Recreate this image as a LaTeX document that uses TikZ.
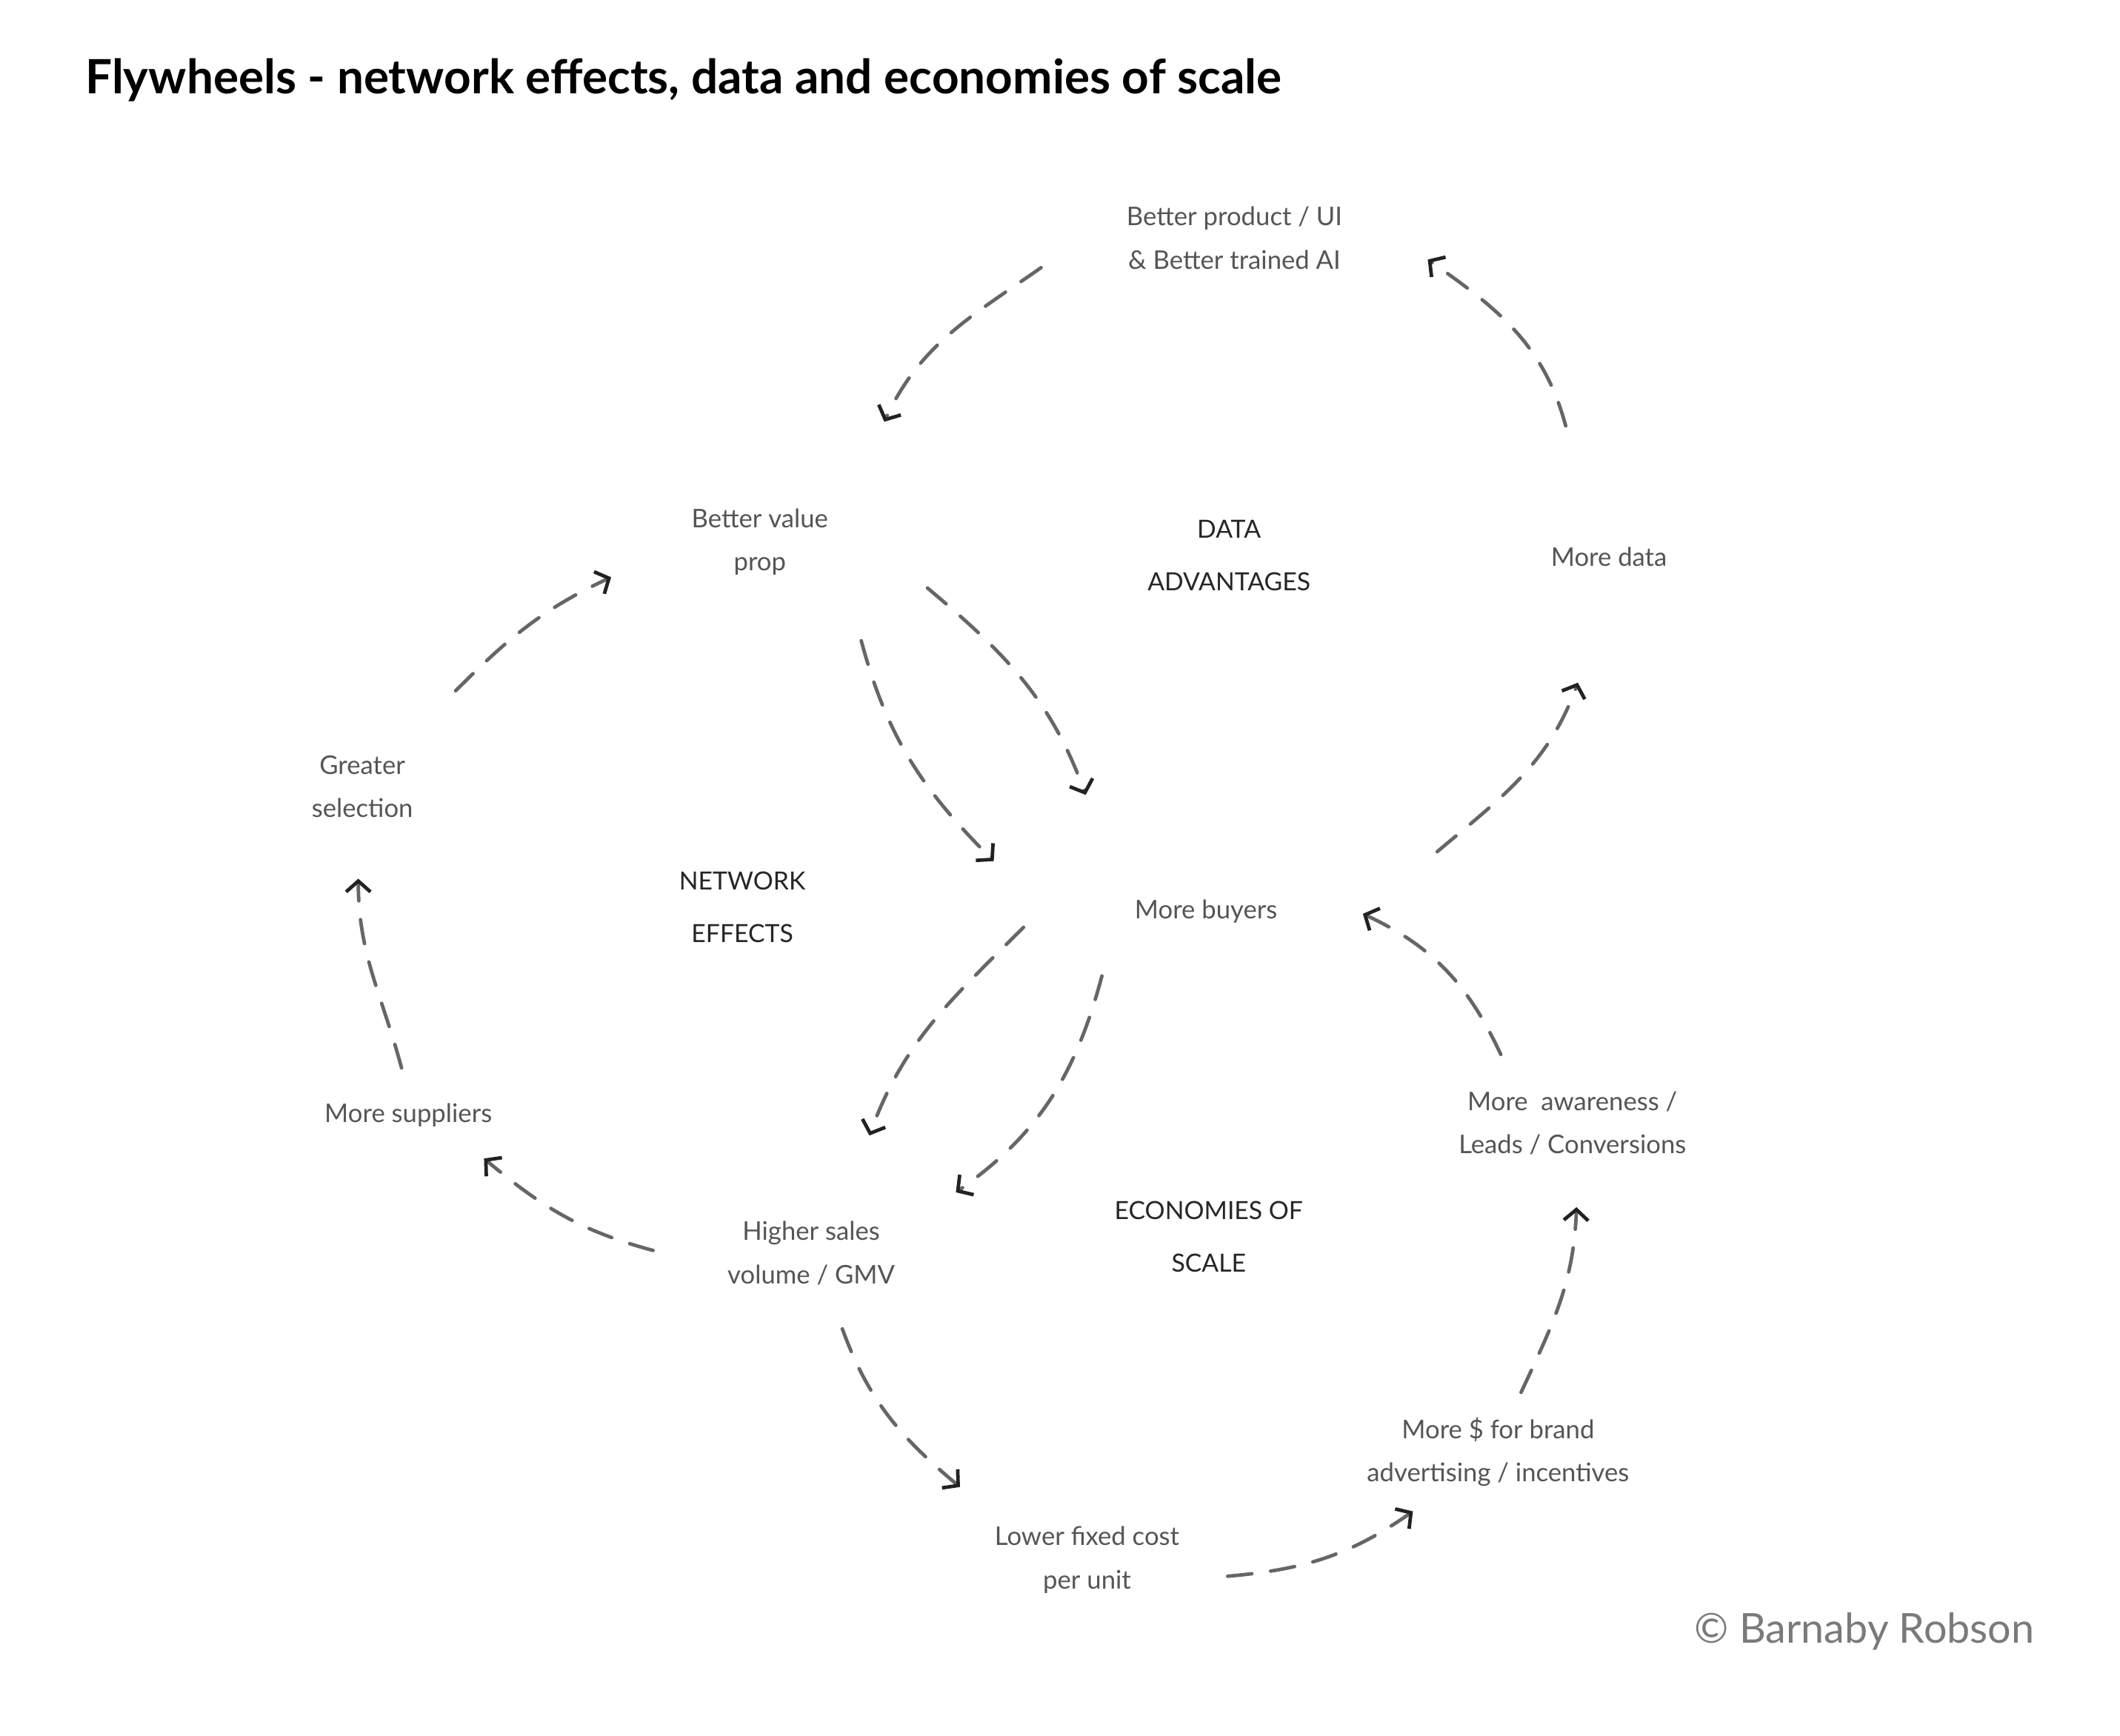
\documentclass[tikz,border=0pt]{standalone}
\usepackage{fontspec}
\setmainfont{Lato}
\usetikzlibrary{arrows.meta}
\definecolor{lbl}{HTML}{555555}
\definecolor{pencil}{HTML}{666666}
\definecolor{tip}{HTML}{222222}
\definecolor{copyc}{HTML}{7A7A7A}
\begin{document}
\begin{tikzpicture}[x=1pt,y=1pt,
  lab/.style={font=\fontsize{19}{32}\selectfont, text=lbl, align=center, inner sep=0pt},
  sec/.style={font=\fontsize{18.5}{39}\selectfont, text=black!85, align=center, inner sep=0pt},
  flow/.style={draw=pencil, line width=2.6pt, dash pattern=on 18pt off 14pt, line cap=round,
    -{Straight Barb[length=8pt,width=18pt,line width=2.6pt,tip]}}]
\useasboundingbox (0,0) rectangle (1568,-1284);
\fill[white] (0,0) rectangle (1568,-1284);

% title
\node[anchor=west, inner sep=0pt, font=\bfseries\fontsize{35}{40}\selectfont] (title) at (63,-59)
  {Flywheels - network effects, data and economies of scale};

% labels
\node[lab] (bp)  at (913,-176)  {Better product / UI\\\& Better trained AI};
\node[lab] (bvp) at (562,-401)  {Better value\\prop};
\node[sec] (da)  at (909,-411)  {DATA\\ADVANTAGES};
\node[lab] (md)  at (1190,-412) {More data};
\node[lab] (gs)  at (268,-582)  {Greater\\selection};
\node[sec] (ne)  at (549,-671)  {NETWORK\\EFFECTS};
\node[lab] (mb)  at (892,-674)  {More buyers};
\node[lab] (ms)  at (302,-825)  {More suppliers};
\node[lab] (ma)  at (1163,-831) {More\ \ awareness /\\Leads / Conversions};
\node[lab] (hs)  at (600,-927)  {Higher sales\\volume / GMV};
\node[sec] (es)  at (894,-915)  {ECONOMIES OF\\SCALE};
\node[lab] (mf)  at (1108,-1074) {More \$ for brand\\advertising / incentives};
\node[lab] (lf)  at (804,-1154) {Lower fixed cost\\per unit};
\node[inner sep=0pt, text=copyc, font=\fontsize{30.5}{34}\selectfont] (cr) at (1379,-1207) {© Barnaby Robson};

% arrow end points
\coordinate (a1s) at (770,-198);  \coordinate (a1e) at (654,-312);
\coordinate (a2s) at (1158,-315); \coordinate (a2e) at (1056,-192);
\coordinate (a3s) at (1063,-630); \coordinate (a3e) at (1167,-505);
\coordinate (a4s) at (337,-511);  \coordinate (a4e) at (452,-427);
\coordinate (a5s) at (297,-790);  \coordinate (a5e) at (265,-650);
\coordinate (a6s) at (483,-925);  \coordinate (a6e) at (358,-857);
\coordinate (a7s) at (637,-474);  \coordinate (a7e) at (735,-637);
\coordinate (a8s) at (686,-435);  \coordinate (a8e) at (803,-588);
\coordinate (a9s) at (757,-686);  \coordinate (a9e) at (643,-840);
\coordinate (a10s) at (815,-722); \coordinate (a10e) at (707,-882);
\coordinate (a11s) at (1110,-780);\coordinate (a11e) at (1008,-676);
\coordinate (a12s) at (1125,-1030);\coordinate (a12e) at (1166,-893);
\coordinate (a13s) at (623,-983); \coordinate (a13e) at (710,-1100);
\coordinate (a14s) at (908,-1166);\coordinate (a14e) at (1045,-1118);

% connectors
\draw[flow] (a1s) to[out=215,in=65] (a1e);
\draw[flow] (a2s) to[out=105,in=-35] (a2e);
\draw[flow] (a3s) to[out=40,in=250] (a3e);
\draw[flow] (a4s) to[out=45,in=205] (a4e);
\draw[flow] (a5s) to[out=105,in=270] (a5e);
\draw[flow] (a6s) to[out=165,in=-40] (a6e);
\draw[flow] (a7s) to[out=-75,in=135] (a7e);
\draw[flow] (a8s) to[out=-40,in=110] (a8e);
\draw[flow] (a9s) to[out=225,in=70] (a9e);
\draw[flow] (a10s) to[out=-105,in=35] (a10e);
\draw[flow] (a11s) to[out=115,in=-25] (a11e);
\draw[flow] (a12s) to[out=65,in=268] (a12e);
\draw[flow] (a13s) to[out=-70,in=140] (a13e);
\draw[flow] (a14s) to[out=5,in=215] (a14e);
\end{tikzpicture}
\end{document}
